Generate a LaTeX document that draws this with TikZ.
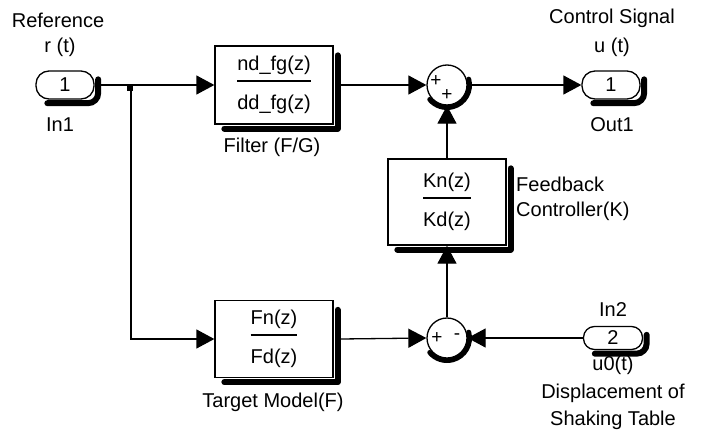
\documentclass[tikz,border=0pt]{standalone}
\usepackage{fontspec}
\setmainfont{Liberation Sans}
\usetikzlibrary{arrows.meta}

% numerator over denominator, separated by a rule
\newcommand\blockfrac[2]{\setlength{\arrayrulewidth}{1.3pt}%
  \begin{tabular}{@{}c@{}}#1\\[3pt]\hline\rule{0pt}{28pt}#2\end{tabular}}

\begin{document}
\begin{tikzpicture}[x=1pt,y=-1pt,
  every node/.style={font=\fontsize{20}{24}\selectfont, inner sep=0pt},
  wire/.style={line width=1.3pt},
  sig/.style={wire, -{Triangle[length=18pt,width=19pt]}},
  port/.style={draw, line width=1.3pt, fill=white, rounded corners=13pt,
    minimum width=58pt, minimum height=28pt},
  tfblock/.style={draw, line width=1.3pt, fill=white,
    minimum width=118pt, minimum height=78pt},
  sumblock/.style={circle, draw, line width=1.3pt, fill=white, minimum size=40pt},
  blockshadow/.style={line width=6pt, line cap=round, line join=round},
  portshadow/.style={line width=6pt, line cap=round, rounded corners=10pt},
  sumshadow/.style={line width=5pt, line cap=round},
  sign/.style={font=\fontsize{19}{19}\selectfont},
  lbl/.style={}]
\useasboundingbox (0,0) rectangle (701,439);

% ports
\node[port] (in1) at (65,85) {1};
\node[port] (out1) at (611,85) {1};
\node[port, minimum width=59pt, minimum height=23pt, rounded corners=11pt] (in2) at (613,338) {2};

% transfer-function blocks
\node[tfblock] (filt) at (274,85) {\blockfrac{nd\_fg(z)}{dd\_fg(z)}};
\node[tfblock, minimum height=77pt] (targ) at (274,339) {\blockfrac{Fn(z)}{Fd(z)}};
\node[tfblock, minimum height=86pt] (ctrl) at (447,202) {\blockfrac{Kn(z)}{Kd(z)}};

% summing junctions
\node[sumblock] (sum1) at (447,85) {};
\node[sumblock] (sum2) at (447,338) {};
\node[sign] (p1) at (436,81) {+};
\node[sign] (p2) at (447,95) {+};
\node[sign] (p3) at (437,338) {+};
\node[sign] (m1) at (457,337) {-};

% drop shadows along the lower and right edges
\draw[blockshadow] ([shift={(4,10)}]filt.north east) -- ([shift={(4,4)}]filt.south east) -- ([shift={(10,4)}]filt.south west);
\draw[blockshadow] ([shift={(4,10)}]targ.north east) -- ([shift={(4,4)}]targ.south east) -- ([shift={(10,4)}]targ.south west);
\draw[blockshadow] ([shift={(4,10)}]ctrl.north east) -- ([shift={(4,4)}]ctrl.south east) -- ([shift={(10,4)}]ctrl.south west);
\foreach \n in {in1,out1,in2}
  \draw[portshadow] ([shift={(12,3.5)}]\n.south west) -- ([shift={(3.5,3.5)}]\n.south east)
    -- ([shift={(3.5,9)}]\n.north east);
\foreach \n in {sum1,sum2}
  \draw[sumshadow] (\n.center) ++(-15:22.5) arc[start angle=-15, end angle=140, radius=22.5];

% branch point
\coordinate (br) at (131,85);
\fill (127,84) rectangle (133,91);

% connectors
\draw[sig] ([xshift=6pt]in1.east) -- (filt.west);
\draw[sig] (br) |- (targ.west);
\draw[sig] ([xshift=7pt]filt.east) -- (sum1.west);
\draw[sig] ([xshift=4pt]sum1.east) -- (out1.west);
\draw[sig] (ctrl.north) -- (sum1.south);
\draw[sig] (sum2.north) -- (ctrl.south);
\draw[sig] ([xshift=7pt]targ.east) -- (sum2.west);
\draw[sig] (in2.west) -- (sum2.east);

% labels
\node[lbl] (l1) at (58,20) {Reference};
\node[lbl] (l2) at (60,47) {r (t)};
\node[lbl] (l3) at (60,125) {In1};
\node[lbl] (l4) at (612,18) {Control Signal};
\node[lbl] (l5) at (612,47) {u (t)};
\node[lbl] (l6) at (612,125) {Out1};
\node[lbl] (l7) at (272,147) {Filter (F/G)};
\node[lbl, anchor=west] (l8) at (516,184) {Feedback};
\node[lbl, anchor=west] (l9) at (516,211) {Controller(K)};
\node[lbl] (l10) at (273,402) {Target Model(F)};
\node[lbl] (l11) at (613,310) {In2};
\node[lbl] (l12) at (613,365) {u0(t)};
\node[lbl] (l13) at (613,393) {Displacement of};
\node[lbl] (l14) at (613,420) {Shaking Table};
\end{tikzpicture}
\end{document}
